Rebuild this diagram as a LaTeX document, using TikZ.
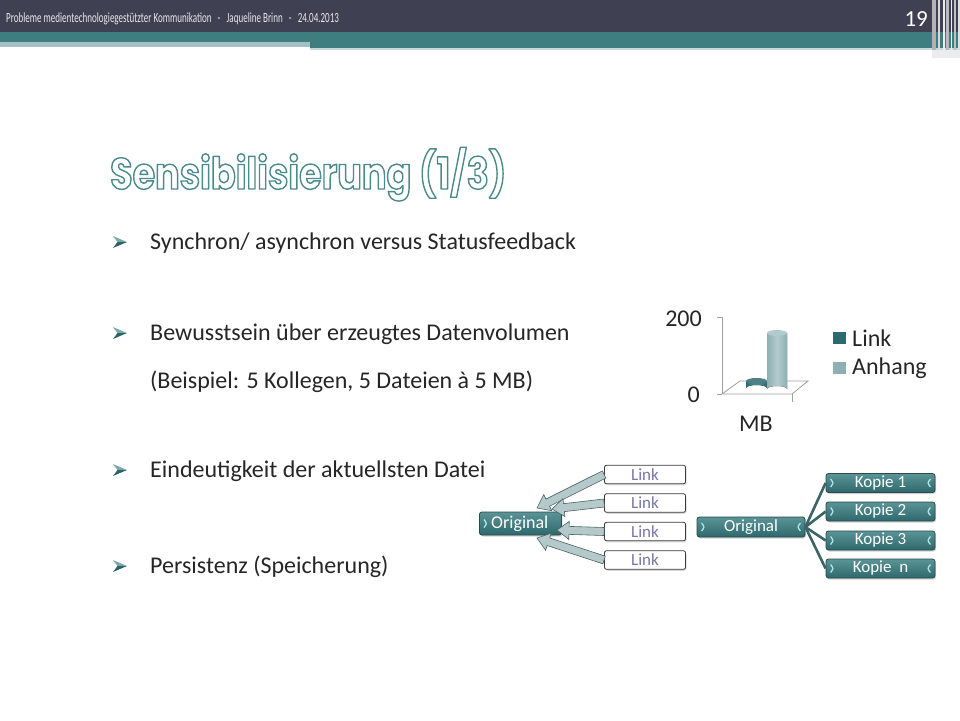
\documentclass[tikz,border=0pt]{standalone}
\usepackage{fontspec}
\setmainfont{Carlito}
\newfontfamily\hdrfont[FakeStretch=0.645]{Carlito}
\newfontfamily\titlefont[FakeStretch=0.83]{Poppins}
\usetikzlibrary{calc,shadows}
\definecolor{hdr}{HTML}{3F4152}
\definecolor{band}{HTML}{3E7E80}
\definecolor{strip}{HTML}{A3C1C3}
\definecolor{titlec}{HTML}{4A8A8C}
\definecolor{bodyc}{HTML}{262626}
\definecolor{boxtop}{HTML}{5A9497}
\definecolor{boxbot}{HTML}{2E686C}
\definecolor{boxline}{HTML}{2A4A4C}
\definecolor{linktext}{HTML}{7878A8}
\definecolor{linkline}{HTML}{3A3A3A}
\definecolor{arrfill}{HTML}{B5C9CA}
\definecolor{arrline}{HTML}{4A6466}
\definecolor{connc}{HTML}{3A6466}
\definecolor{brkc}{HTML}{B0E4E4}
\definecolor{cyldark}{HTML}{2C6A70}
\definecolor{cyldarkhi}{HTML}{4A9096}
\definecolor{cyllight}{HTML}{8EAFB3}
\definecolor{cyllighthi}{HTML}{B2CACD}
\definecolor{axisc}{HTML}{A0A0A0}
\definecolor{bulhi}{HTML}{7AAAAC}
\definecolor{bullo}{HTML}{2F6467}
\tikzset{
  tealbox/.style={draw=boxline, line width=0.8pt, rounded corners=2.5pt,
    top color=boxtop, bottom color=boxbot, text=white,
    font=\fontsize{17}{17}\selectfont, inner sep=0pt, minimum height=19pt,
    drop shadow={shadow xshift=1pt, shadow yshift=-1.5pt, opacity=0.35}},
  linkbox/.style={draw=linkline, line width=0.8pt, rounded corners=2pt,
    fill=white, text=linktext, font=\fontsize{17}{17}\selectfont,
    inner sep=0pt, minimum width=81pt, minimum height=18.5pt,
    drop shadow={shadow xshift=1pt, shadow yshift=-1.5pt, opacity=0.3}},
  blockarrow/.style={fill=arrfill, draw=arrline, line width=0.6pt},
  conn/.style={draw=connc, line width=2.6pt},
  brk/.style={draw=brkc, line width=1.3pt},
  bodytxt/.style={anchor=base west, font=\fontsize{24}{24}\selectfont,
    text=bodyc, inner sep=0pt},
  charttxt/.style={font=\fontsize{24}{24}\selectfont, text=bodyc, inner sep=0pt},
  axisline/.style={draw=axisc, line width=0.8pt}
}
\newcommand\blkarrow[2]{%
  \coordinate (bh) at ($(#2)!12pt!(#1)$);
  \filldraw[blockarrow] ($(#1)!4pt!90:(#2)$) -- ($(bh)!4pt!-90:(#1)$)
    -- ($(bh)!9pt!-90:(#1)$) -- (#2) -- ($(bh)!9pt!90:(#1)$)
    -- ($(bh)!4pt!90:(#1)$) -- ($(#1)!4pt!-90:(#2)$) -- cycle;}
\newcommand\bularrow[1]{%
  \fill[bulhi] (113,#1-6) -- (127,#1) -- (117.5,#1) -- cycle;
  \fill[bullo] (117.5,#1) -- (127,#1) -- (113,#1+6) -- cycle;}
\newcommand\brkleft[1]{%
  \draw[brk] ($(#1.west)+(5,-4)$) .. controls ($(#1.west)+(8,0)$) .. ($(#1.west)+(5,4)$);}
\newcommand\brkright[1]{%
  \draw[brk] ($(#1.east)+(-5,-4)$) .. controls ($(#1.east)+(-8,0)$) .. ($(#1.east)+(-5,4)$);}
\newcommand\outlinetext[1]{%
  \special{pdf:literal direct 0.29 0.54 0.55 RG 1.4 w 1 j 2 Tr}#1\special{pdf:literal direct 0 Tr}}
\begin{document}
\begin{tikzpicture}[x=1pt,y=-1pt]
\path[use as bounding box, fill=white] (0,0) rectangle (960,720);
% header
\fill[hdr] (0,0) rectangle (960,32);
\fill[band] (0,32) rectangle (960,42);
\fill[strip] (0,42) rectangle (310,47);
\fill[band] (310,42) rectangle (960,48);
\fill[strip!60!white] (310,48) rectangle (960,50);
\fill[gray!60] (932,0) rectangle (936,50);
\fill[gray!30] (938,0) rectangle (940,50);
\fill[white!85!gray] (943,0) rectangle (944.5,50);
\fill[gray!55] (946,0) rectangle (949,50);
\fill[white!85!gray] (951,0) rectangle (952,50);
\fill[gray!50] (953.5,0) rectangle (956,50);
\fill[gray!25] (958,0) rectangle (960,50);
\fill[gray!15] (932,50) rectangle (960,58);
\node[anchor=base west, inner sep=0pt, text=white!88!hdr,
  font=\hdrfont\fontsize{14}{14}\selectfont] (hdrtext) at (6,22)
  {Probleme medientechnologiegestützter Kommunikation\ \ \ -\ \ \ Jaqueline Brinn\ \ \ -\ \ \ 24.04.2013};
\node[anchor=base east, inner sep=0pt, text=white, font=\fontsize{23}{23}\selectfont]
  (pagenum) at (928,27) {19};
% title
\node[anchor=base west, inner sep=0pt, text=white,
  font=\titlefont\bfseries\fontsize{44}{44}\selectfont] (title) at (110,189)
  {\outlinetext{Sensibilisierung (1/3)}};
% bullets
\bularrow{242}
\node[bodytxt] (b1) at (150,249) {Synchron/ asynchron versus Statusfeedback};
\bularrow{333}
\node[bodytxt] (b2) at (150,340) {Bewusstsein über erzeugtes Datenvolumen};
\node[bodytxt] (b2b) at (150,388) {(Beispiel: 5 Kollegen, 5 Dateien à 5 MB)};
\bularrow{470}
\node[bodytxt] (b3) at (150,477) {Eindeutigkeit der aktuellsten Datei};
\bularrow{566}
\node[bodytxt] (b4) at (150,573) {Persistenz (Speicherung)};
% chart
\draw[axisline] (717,317) -- (722,317);
\draw[axisline] (717,394) -- (722,394);
\draw[axisline] (722,317) -- (722,394);
\draw[axisline] (792,394) -- (792,402);
\draw[axisline] (722,394) -- (740,381) -- (808,381) -- (792,394) -- cycle;
% link cylinder
\fill[left color=cyldark, right color=cyldark, middle color=cyldarkhi]
  (746,381) -- (746,388) arc[start angle=180, end angle=360, x radius=10.5, y radius=3] -- (767,381) -- cycle;
\fill[cyldark!85!white] (756.5,381) ellipse[x radius=10.5, y radius=3];
% anhang cylinder
\fill[left color=cyllight, right color=cyllight, middle color=cyllighthi]
  (767,333) -- (767,389) arc[start angle=180, end angle=360, x radius=10, y radius=3] -- (787,333) -- cycle;
\fill[cyllighthi] (777,333) ellipse[x radius=10, y radius=3];
\node[charttxt, anchor=east] (y200) at (702,319) {200};
\node[charttxt, anchor=east] (y0) at (700,395) {0};
\node[charttxt] (mb) at (756,424) {MB};
\fill[cyldark] (833,332) rectangle (846,344);
\node[charttxt, anchor=west] (lgt1) at (852,338) {Link};
\fill[cyllight] (833,362) rectangle (846,374);
\node[charttxt, anchor=west] (lgt2) at (852,368) {Anhang};
% left diagram
\node[tealbox, minimum width=82pt, minimum height=23pt, anchor=west] (O1) at (479,523.5) {};
\node[anchor=west, inner sep=0pt, text=white, font=\fontsize{18}{18}\selectfont] (O1t) at (491,523.5) {Original};
\brkleft{O1}
\node[linkbox] (L1) at (645,474.5) {Link};
\node[linkbox] (L2) at (645,503) {Link};
\node[linkbox] (L3) at (645,531.5) {Link};
\node[linkbox] (L4) at (645,560) {Link};
\coordinate (t1) at (537,508);
\coordinate (t2) at (552,509);
\coordinate (t3) at (557,530);
\coordinate (t4) at (537,538);
\blkarrow{L1.west}{t1}
\blkarrow{L2.west}{t2}
\blkarrow{L3.west}{t3}
\blkarrow{L4.west}{t4}
% right diagram
\node[tealbox, minimum width=108pt, minimum height=20pt] (O2) at (751,527) {Original};
\node[tealbox, minimum width=109pt] (K1) at (880.5,483) {Kopie 1};
\node[tealbox, minimum width=109pt] (K2) at (880.5,511.5) {Kopie 2};
\node[tealbox, minimum width=109pt] (K3) at (880.5,540.5) {Kopie 3};
\node[tealbox, minimum width=109pt] (K4) at (880.5,568.5) {Kopie\ \ n};
\foreach \k in {O2,K1,K2,K3,K4}{\brkleft{\k}\brkright{\k}}
\foreach \k in {K1,K2,K3,K4}{\draw[conn] (O2.east) -- (\k.west);}
\end{tikzpicture}
\end{document}
